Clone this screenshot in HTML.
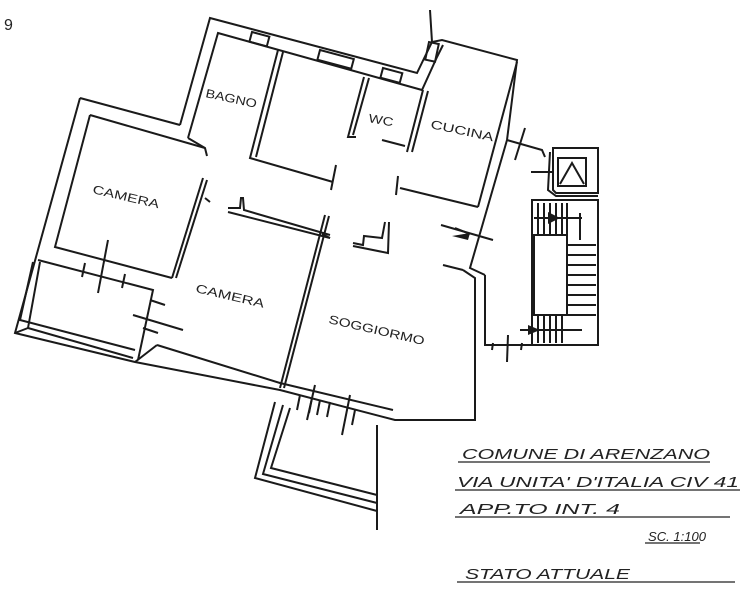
<!DOCTYPE html>
<html><head><meta charset="utf-8"><style>
html,body{margin:0;padding:0;background:#fff;}
svg{display:block}
text{font-family:"Liberation Sans",sans-serif;fill:#222;}
</style></head><body>
<svg width="742" height="597" viewBox="0 0 742 597" xmlns="http://www.w3.org/2000/svg">
<g fill="none" stroke="#1a1a1a" stroke-width="2" stroke-linejoin="miter">
<polyline points="180,125 210,18 417,73 432,42 442,40 517,60 507,140"/>
<polyline points="80,98 180,125"/>
<polyline points="80,98 15,333 135,362 280,390 395,420 475,420 475,278 463,270"/>
<polyline points="188,138 218,33 422,90 437,57 443,45"/>
<polyline points="90,115 205,148"/>
<polyline points="90,115 55,247 172,278"/>
<polyline points="517,62 478,207"/>
<polyline points="507,140 470,268 485,275"/>
<polyline points="33,262 20,320 135,350"/>
<polyline points="40,262 28,328 133,358"/>
<polyline points="38,260 153,290 138,360"/>
<polyline points="15,333 28,328"/>
<polyline points="157,345 280,383 393,410"/>
<line x1="135" y1="362" x2="157" y2="345"/>
<line x1="85" y1="263" x2="82" y2="277"/><line x1="125" y1="274" x2="122" y2="288"/>
<line x1="108" y1="240" x2="98" y2="293"/>
<line x1="133" y1="315" x2="183" y2="330"/>
<line x1="150" y1="300" x2="165" y2="305"/><line x1="143" y1="328" x2="158" y2="333"/>
<rect x="252" y="32" width="18" height="10" transform="rotate(15 252 32)"/>
<rect x="320" y="50" width="35" height="10" transform="rotate(15 320 50)"/>
<rect x="383" y="68" width="20" height="10" transform="rotate(15 383 68)"/>
<rect x="429" y="42" width="10" height="18" transform="rotate(12 429 42)"/>
<line x1="430" y1="10" x2="432" y2="42"/>
<polyline points="278,50 250,158 333,182"/>
<polyline points="283,52 256,157"/>
<line x1="336" y1="165" x2="331" y2="190"/>
<polyline points="364,77 348,137 356,137"/>
<polyline points="369,78 353,135"/>
<polyline points="423,90 407,152"/>
<polyline points="428,91 412,152"/>
<line x1="382" y1="140" x2="405" y2="146"/>
<polyline points="398,176 396,195"/>
<polyline points="400,188 478,207"/>
<polyline points="188,138 205,148 207,156"/>
<line x1="203" y1="178" x2="172" y2="278"/>
<line x1="207" y1="180" x2="176" y2="278"/>
<line x1="205" y1="198" x2="210" y2="202"/>
<polyline points="228,208 240,208 241,198 243,198 244,210 330,235"/>
<line x1="228" y1="212" x2="330" y2="238"/>
<line x1="325" y1="215" x2="280" y2="388"/>
<line x1="329" y1="216" x2="284" y2="388"/>
<line x1="322" y1="234" x2="330" y2="238"/>
<polyline points="353,243 363,245 364,236 382,238 385,222"/>
<polyline points="353,246 388,253 389,222"/>
<polyline points="443,265 463,270"/>
<line x1="441" y1="225" x2="493" y2="240"/>
<line x1="455" y1="228" x2="470" y2="234"/>
<line x1="300" y1="395" x2="297" y2="410"/><line x1="312" y1="398" x2="309" y2="413"/>
<line x1="320" y1="400" x2="317" y2="415"/><line x1="330" y1="402" x2="327" y2="417"/>
<line x1="355" y1="410" x2="352" y2="425"/>
<line x1="315" y1="385" x2="307" y2="420"/>
<line x1="350" y1="395" x2="342" y2="435"/>
<polyline points="275,402 255,478 377,511"/>
<polyline points="283,405 263,474 377,503"/>
<polyline points="290,408 271,468 377,495"/>
<line x1="377" y1="425" x2="377" y2="530"/>
<polyline points="507,140 542,150 545,157"/>
<line x1="525" y1="128" x2="515" y2="160"/>
<polyline points="485,275 485,345 532,345"/>
<line x1="493" y1="343" x2="492" y2="350"/><line x1="508" y1="335" x2="507" y2="362"/><line x1="522" y1="343" x2="521" y2="350"/>
<path d="M553,148 H598 V193 H556 L553,190 Z"/>
<path d="M550,152 L548,190 L556,196 H598"/>
<rect x="558" y="158" width="28" height="28"/>
<polyline points="560,184 572,163 584,184"/>
<line x1="531" y1="172" x2="552" y2="172"/>
<rect x="532" y="200" width="66" height="145"/>
<rect x="534" y="235" width="33" height="80"/>
<line x1="538" y1="203" x2="538" y2="235"/><line x1="544" y1="203" x2="544" y2="235"/>
<line x1="550" y1="203" x2="550" y2="235"/><line x1="556" y1="203" x2="556" y2="235"/>
<line x1="562" y1="203" x2="562" y2="235"/><line x1="567" y1="203" x2="567" y2="315"/>
<line x1="534" y1="218" x2="582" y2="218"/><line x1="580" y1="213" x2="580" y2="240"/>
<line x1="567" y1="245" x2="596" y2="245"/><line x1="567" y1="255" x2="596" y2="255"/>
<line x1="567" y1="265" x2="596" y2="265"/><line x1="567" y1="275" x2="596" y2="275"/>
<line x1="567" y1="285" x2="596" y2="285"/><line x1="567" y1="295" x2="596" y2="295"/>
<line x1="567" y1="305" x2="596" y2="305"/>
<line x1="538" y1="315" x2="538" y2="343"/><line x1="544" y1="315" x2="544" y2="343"/>
<line x1="550" y1="315" x2="550" y2="343"/><line x1="556" y1="315" x2="556" y2="343"/>
<line x1="562" y1="315" x2="562" y2="343"/><line x1="534" y1="315" x2="596" y2="315"/>
<line x1="520" y1="330" x2="582" y2="330"/>
</g>
<g fill="#1a1a1a">
<path d="M548,212 L560,218 L548,224 Z"/>
<path d="M540,330 L528,325 L528,335 Z" />
<path d="M452,236 L470,233 L468,240 Z"/>
</g>
<g font-size="12">
<text x="205" y="97" transform="rotate(12 205 97)" textLength="52" lengthAdjust="spacingAndGlyphs">BAGNO</text>
<text x="368" y="122" transform="rotate(10 368 122)" textLength="25" lengthAdjust="spacingAndGlyphs">WC</text>
<text x="430" y="128" transform="rotate(12 430 128)" textLength="64" lengthAdjust="spacingAndGlyphs">CUCINA</text>
<text x="92" y="193" transform="rotate(13 92 193)" textLength="68" lengthAdjust="spacingAndGlyphs">CAMERA</text>
<text x="195" y="292" transform="rotate(13 195 292)" textLength="70" lengthAdjust="spacingAndGlyphs">CAMERA</text>
<text x="328" y="323" transform="rotate(13 328 323)" textLength="98" lengthAdjust="spacingAndGlyphs">SOGGIORMO</text>
<text x="4" y="30" font-size="16">9</text>
</g>
<g font-size="15" font-style="italic">
<text x="462" y="459" textLength="248" lengthAdjust="spacingAndGlyphs">COMUNE DI ARENZANO</text>
<text x="457" y="487" textLength="282" lengthAdjust="spacingAndGlyphs">VIA UNITA' D'ITALIA CIV 41</text>
<text x="460" y="514" textLength="160" lengthAdjust="spacingAndGlyphs">APP.TO INT. 4</text>
<text x="648" y="541" font-size="13" textLength="58" lengthAdjust="spacingAndGlyphs">SC. 1:100</text>
<text x="465" y="579" textLength="165" lengthAdjust="spacingAndGlyphs">STATO ATTUALE</text>
</g>
<g stroke="#222" stroke-width="1.3">
<line x1="458" y1="462" x2="710" y2="462"/>
<line x1="455" y1="490" x2="740" y2="490"/>
<line x1="455" y1="517" x2="730" y2="517"/>
<line x1="645" y1="543" x2="700" y2="543"/>
<line x1="457" y1="582" x2="735" y2="582"/>
</g>
</svg>
</body></html>
